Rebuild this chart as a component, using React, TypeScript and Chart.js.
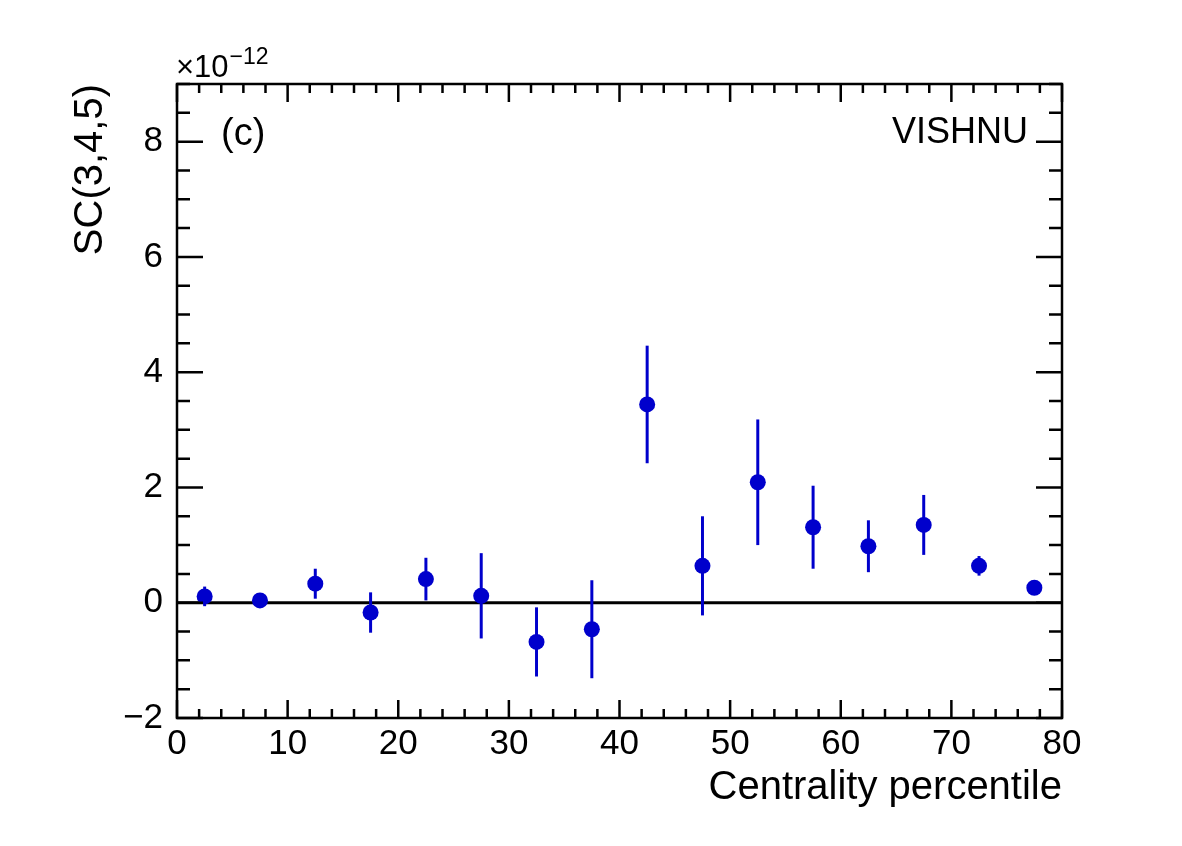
import React, { useEffect, useRef } from "react";
import { Chart, registerables } from "chart.js";

Chart.register(...registerables);

const centrality = [2.5, 7.5, 12.5, 17.5, 22.5, 27.5, 32.5, 37.5, 42.5, 47.5, 52.5, 57.5, 62.5, 67.5, 72.5, 77.5];
const scValues = [0.11, 0.04, 0.33, -0.17, 0.41, 0.12, -0.68, -0.46, 3.44, 0.64, 2.09, 1.31, 0.98, 1.35, 0.64, 0.26];
const scErrors = [0.17, 0.05, 0.26, 0.35, 0.37, 0.74, 0.6, 0.85, 1.02, 0.86, 1.09, 0.72, 0.45, 0.52, 0.17, 0.0];
const xTickValues = [0, 10, 20, 30, 40, 50, 60, 70, 80];
const yTickValues = [-2, 0, 2, 4, 6, 8];

const FONT = "'Liberation Sans', Arial, Helvetica, sans-serif";
const BLUE = "#0000cc";

const rootPlugin = {
  id: "rootStyle",
  beforeDatasetsDraw(chart: any) {
    const { ctx, chartArea, scales } = chart;
    const xs = scales.x;
    const ys = scales.y;
    ctx.save();
    ctx.strokeStyle = "#000";
    ctx.lineWidth = 3;
    const y0 = ys.getPixelForValue(0);
    ctx.beginPath();
    ctx.moveTo(chartArea.left, y0);
    ctx.lineTo(chartArea.right, y0);
    ctx.stroke();
    ctx.strokeStyle = BLUE;
    ctx.lineWidth = 3;
    centrality.forEach((c, i) => {
      const e = scErrors[i];
      if (e <= 0) return;
      const px = xs.getPixelForValue(c);
      ctx.beginPath();
      ctx.moveTo(px, ys.getPixelForValue(scValues[i] - e));
      ctx.lineTo(px, ys.getPixelForValue(scValues[i] + e));
      ctx.stroke();
    });
    ctx.restore();
  },
  afterDraw(chart: any) {
    const { ctx, chartArea, scales } = chart;
    const xs = scales.x;
    const ys = scales.y;
    const { left, right, top, bottom } = chartArea;
    ctx.save();
    ctx.strokeStyle = "#000";
    ctx.lineWidth = 2.5;
    ctx.strokeRect(left, top, right - left, bottom - top);
    for (let v = 0; v <= 80.001; v += 2) {
      const major = Math.abs(v % 10) < 1e-6;
      const len = major ? 18 : 9;
      const px = xs.getPixelForValue(v);
      ctx.beginPath();
      ctx.moveTo(px, bottom);
      ctx.lineTo(px, bottom - len);
      ctx.moveTo(px, top);
      ctx.lineTo(px, top + len);
      ctx.stroke();
    }
    for (let v = -2; v <= 9.001; v += 0.5) {
      const major = Math.abs(v % 2) < 1e-6;
      const len = major ? 26 : 13;
      const py = ys.getPixelForValue(v);
      ctx.beginPath();
      ctx.moveTo(left, py);
      ctx.lineTo(left + len, py);
      ctx.moveTo(right, py);
      ctx.lineTo(right - len, py);
      ctx.stroke();
    }
    ctx.fillStyle = "#000";
    ctx.textBaseline = "alphabetic";
    ctx.font = `38px ${FONT}`;
    ctx.textAlign = "left";
    ctx.fillText("(c)", left + 44, top + 61);
    ctx.font = `36px ${FONT}`;
    ctx.textAlign = "right";
    ctx.fillText("VISHNU", right - 34, top + 59);
    ctx.textAlign = "left";
    ctx.font = `31px ${FONT}`;
    ctx.fillText("\u00d710", left - 1, top - 7);
    const w = ctx.measureText("\u00d710").width;
    ctx.font = `23px ${FONT}`;
    ctx.fillText("\u221212", left - 1 + w + 1, top - 20);
    ctx.restore();
  },
};

export default function App() {
  const canvasRef = useRef<HTMLCanvasElement | null>(null);

  useEffect(() => {
    const canvas = canvasRef.current;
    if (!canvas) return;
    const chart = new Chart(canvas, {
      type: "scatter",
      data: {
        datasets: [
          {
            data: centrality.map((c, i) => ({ x: c, y: scValues[i] })),
            backgroundColor: BLUE,
            borderColor: BLUE,
            pointRadius: 8,
            pointBorderWidth: 0,
            pointHoverRadius: 8,
          },
        ],
      },
      options: {
        animation: false,
        responsive: false,
        maintainAspectRatio: false,
        events: [],
        layout: { padding: { left: 67, top: 84, right: 120, bottom: 34 } },
        plugins: { legend: { display: false }, tooltip: { enabled: false } },
        scales: {
          x: {
            type: "linear",
            min: 0,
            max: 80,
            grid: { display: false, drawTicks: false },
            border: { display: false },
            afterBuildTicks: (scale: any) => {
              scale.ticks = xTickValues.map((v) => ({ value: v }));
            },
            afterFit: (scale: any) => {
              scale.height = 94;
            },
            ticks: {
              padding: 5,
              color: "#000",
              font: { family: FONT, size: 35 },
              maxRotation: 0,
              callback: (v: any) => String(v),
            },
            title: {
              display: true,
              text: "Centrality percentile",
              align: "end",
              color: "#000",
              font: { family: FONT, size: 40 },
              padding: 0,
            },
          },
          y: {
            type: "linear",
            min: -2,
            max: 9,
            grid: { display: false, drawTicks: false },
            border: { display: false },
            afterBuildTicks: (scale: any) => {
              scale.ticks = yTickValues.map((v) => ({ value: v }));
            },
            afterFit: (scale: any) => {
              scale.width = 110;
            },
            ticks: {
              padding: 14,
              color: "#000",
              font: { family: FONT, size: 35 },
              callback: (v: any) => (Number(v) < 0 ? "\u2212" + Math.abs(Number(v)) : String(v)),
            },
            title: {
              display: true,
              text: "SC(3,4,5)",
              align: "end",
              color: "#000",
              font: { family: FONT, size: 40 },
              padding: 0,
            },
          },
        },
      },
      plugins: [rootPlugin],
    });
    return () => chart.destroy();
  }, []);

  return (
    <div style={{ position: "fixed", left: 0, top: 0, width: 1182, height: 846, background: "#fff" }}>
      <canvas ref={canvasRef} width={1182} height={846} style={{ width: 1182, height: 846, display: "block" }} />
    </div>
  );
}
